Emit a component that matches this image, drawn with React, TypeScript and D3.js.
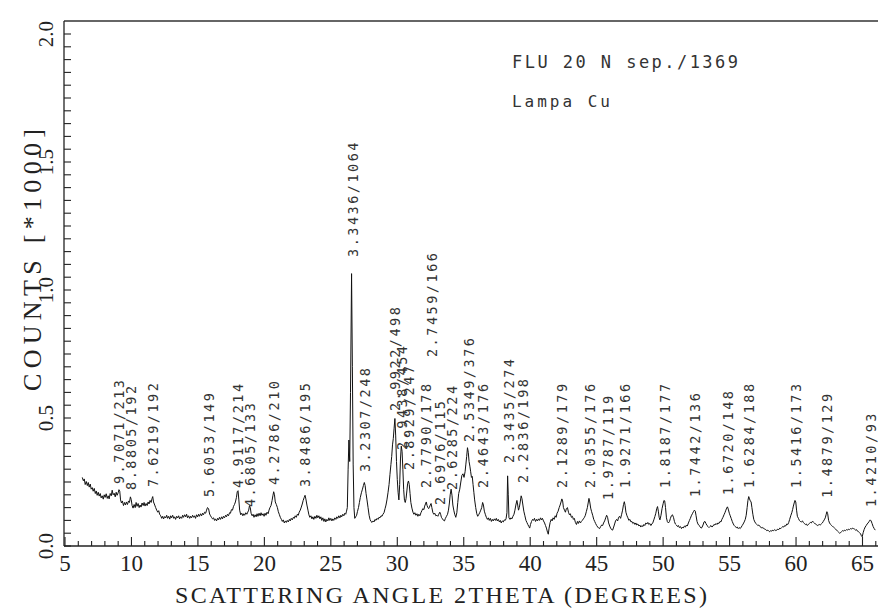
import React from "react";
import * as d3 from "d3";

// 2theta (deg), counts
const pattern: [number, number][] = [
  [6.30,268],[6.38,255],[6.45,262],[6.52,240],[6.60,252],[6.68,236],[6.75,248],[6.82,230],[6.90,242],[6.97,222],
  [7.05,228],[7.12,214],[7.20,225],[7.28,205],[7.35,215],[7.42,198],[7.50,210],[7.57,195],[7.65,205],[7.72,188],
  [7.80,196],[7.88,183],[7.95,200],[8.02,190],[8.10,204],[8.18,186],[8.25,196],[8.32,184],[8.40,205],[8.48,196],
  [8.55,218],[8.62,200],[8.70,206],[8.78,192],[8.85,210],[8.92,198],[9.00,208],[9.06,220],[9.12,214],[9.18,180],
  [9.25,168],[9.32,176],[9.40,158],[9.48,170],[9.55,160],[9.62,172],[9.70,162],[9.78,176],[9.85,170],[9.92,192],
  [9.98,182],[10.05,158],[10.12,148],[10.20,162],[10.28,150],[10.35,170],[10.42,155],[10.50,166],[10.58,150],[10.65,160],
  [10.72,152],[10.80,168],[10.88,158],[10.95,170],[11.02,156],[11.10,166],[11.18,158],[11.25,172],[11.32,164],[11.40,178],
  [11.48,170],[11.55,186],[11.60,193],[11.66,172],[11.75,160],[11.82,150],[11.90,140],[11.98,132],[12.05,138],[12.12,124],
  [12.20,118],[12.28,108],[12.35,116],[12.42,106],[12.50,115],[12.58,110],[12.65,120],[12.72,108],[12.80,116],[12.88,105],
  [12.95,118],[13.02,110],[13.10,120],[13.18,108],[13.25,114],[13.32,104],[13.40,116],[13.48,110],[13.55,118],[13.62,106],
  [13.70,114],[13.78,108],[13.85,120],[13.92,112],[14.00,122],[14.08,114],[14.15,124],[14.22,110],[14.30,118],[14.38,108],
  [14.45,116],[14.52,110],[14.60,120],[14.68,112],[14.75,118],[14.82,108],[14.90,122],[14.98,114],[15.05,124],[15.12,116],
  [15.20,126],[15.28,118],[15.35,128],[15.42,122],[15.50,132],[15.58,128],[15.65,140],[15.72,150],[15.80,146],[15.88,125],
  [15.95,118],[16.02,112],[16.10,106],[16.18,110],[16.25,100],[16.32,106],[16.40,98],[16.48,108],[16.55,102],[16.62,112],
  [16.70,104],[16.78,114],[16.85,106],[16.92,116],[17.00,110],[17.08,120],[17.15,114],[17.22,124],[17.30,118],[17.38,130],
  [17.45,128],[17.52,142],[17.60,140],[17.68,155],[17.75,162],[17.82,172],[17.90,190],[17.96,212],[18.02,216],[18.08,180],
  [18.14,140],[18.22,122],[18.30,128],[18.38,118],[18.45,126],[18.52,120],[18.60,130],[18.68,124],[18.75,132],[18.82,140],
  [18.88,158],[18.94,150],[19.00,128],[19.08,118],[19.15,124],[19.22,112],[19.30,122],[19.38,114],[19.45,126],[19.52,116],
  [19.60,128],[19.68,118],[19.75,130],[19.82,120],[19.90,126],[19.98,116],[20.05,128],[20.12,120],[20.20,132],[20.28,126],
  [20.35,140],[20.42,150],[20.50,158],[20.58,178],[20.64,196],[20.70,212],[20.76,200],[20.82,172],[20.90,162],[20.98,150],
  [21.05,134],[21.12,124],[21.20,112],[21.28,104],[21.35,96],[21.42,102],[21.50,90],[21.58,98],[21.65,92],[21.72,100],
  [21.80,94],[21.88,104],[21.95,98],[22.02,108],[22.10,102],[22.18,112],[22.25,108],[22.32,118],[22.40,112],[22.48,124],
  [22.55,120],[22.62,132],[22.70,140],[22.78,152],[22.85,164],[22.92,178],[23.00,190],[23.06,198],[23.12,184],[23.20,160],
  [23.28,140],[23.35,122],[23.42,112],[23.50,118],[23.58,106],[23.65,114],[23.72,104],[23.80,116],[23.88,108],[23.95,120],
  [24.02,110],[24.10,118],[24.18,106],[24.25,114],[24.32,100],[24.40,110],[24.48,96],[24.55,106],[24.62,94],[24.70,104],
  [24.78,98],[24.85,110],[24.92,100],[25.00,108],[25.08,98],[25.15,106],[25.22,100],[25.30,110],[25.38,104],[25.45,114],
  [25.52,108],[25.60,118],[25.68,110],[25.75,120],[25.82,114],[25.90,124],[25.98,118],[26.05,128],[26.12,124],[26.18,136],
  [26.24,150],[26.30,300],[26.36,414],[26.42,330],[26.48,600],[26.56,1064],[26.62,700],[26.68,320],[26.74,150],[26.80,108],
  [26.87,114],[26.94,120],[27.00,134],[27.08,150],[27.15,170],[27.22,190],[27.30,208],[27.38,222],[27.45,236],[27.52,248],
  [27.58,236],[27.65,205],[27.72,180],[27.80,150],[27.88,120],[27.95,104],[28.02,96],[28.10,92],[28.18,98],[28.25,94],
  [28.32,104],[28.40,100],[28.48,108],[28.55,104],[28.62,112],[28.70,110],[28.78,118],[28.85,116],[28.92,124],[29.00,130],
  [29.08,146],[29.15,160],[29.22,180],[29.30,208],[29.38,240],[29.45,280],[29.52,318],[29.58,350],[29.64,395],[29.70,420],
  [29.76,460],[29.82,498],[29.88,430],[29.94,330],[30.00,260],[30.06,210],[30.12,180],[30.18,240],[30.24,340],[30.30,390],
  [30.36,370],[30.42,300],[30.48,220],[30.54,178],[30.60,170],[30.66,185],[30.72,215],[30.78,245],[30.84,254],[30.90,240],
  [30.96,205],[31.02,170],[31.10,148],[31.18,132],[31.25,124],[31.32,130],[31.40,120],[31.48,126],[31.55,116],[31.62,124],
  [31.70,118],[31.78,130],[31.85,138],[31.92,146],[32.00,142],[32.06,156],[32.12,164],[32.18,172],[32.24,158],[32.30,150],
  [32.36,146],[32.42,152],[32.48,160],[32.54,166],[32.60,150],[32.68,130],[32.75,124],[32.82,128],[32.90,118],[32.98,120],
  [33.05,116],[33.12,124],[33.20,132],[33.26,124],[33.32,112],[33.40,106],[33.48,100],[33.55,98],[33.62,108],[33.70,116],
  [33.78,124],[33.85,140],[33.92,168],[33.98,200],[34.05,222],[34.12,196],[34.18,160],[34.25,140],[34.32,124],[34.40,112],
  [34.48,130],[34.55,170],[34.62,205],[34.70,222],[34.78,250],[34.86,276],[34.94,282],[35.02,268],[35.10,290],[35.16,320],
  [35.22,350],[35.28,384],[35.34,366],[35.40,330],[35.46,312],[35.52,290],[35.58,268],[35.64,272],[35.70,240],[35.76,210],
  [35.82,180],[35.90,150],[35.98,126],[36.05,116],[36.12,122],[36.20,130],[36.28,140],[36.35,150],[36.42,170],[36.48,160],
  [36.55,136],[36.62,124],[36.70,112],[36.78,104],[36.85,110],[36.92,100],[37.00,108],[37.08,96],[37.15,104],[37.22,98],
  [37.30,106],[37.38,100],[37.45,108],[37.52,98],[37.60,104],[37.68,94],[37.75,100],[37.82,90],[37.90,98],[37.98,94],
  [38.05,102],[38.12,100],[38.18,106],[38.25,130],[38.30,274],[38.35,200],[38.40,110],[38.48,104],[38.55,110],[38.62,106],
  [38.70,116],[38.78,124],[38.85,140],[38.92,160],[39.00,178],[39.06,160],[39.12,140],[39.18,150],[39.25,172],[39.32,196],
  [39.38,185],[39.45,160],[39.52,136],[39.60,118],[39.68,100],[39.75,92],[39.82,84],[39.90,76],[39.96,70],[40.02,84],
  [40.10,96],[40.18,104],[40.25,100],[40.32,108],[40.40,96],[40.48,104],[40.55,98],[40.62,106],[40.70,100],[40.78,110],
  [40.85,102],[40.92,108],[41.00,98],[41.08,90],[41.15,80],[41.22,70],[41.30,54],[41.36,46],[41.42,70],[41.50,92],
  [41.58,104],[41.65,98],[41.72,110],[41.80,104],[41.88,118],[41.95,112],[42.02,128],[42.10,136],[42.18,150],[42.25,160],
  [42.32,172],[42.38,184],[42.44,176],[42.50,150],[42.58,140],[42.65,132],[42.72,146],[42.80,150],[42.88,132],[42.95,122],
  [43.02,126],[43.10,112],[43.18,116],[43.25,104],[43.32,108],[43.40,92],[43.48,84],[43.55,96],[43.62,88],[43.70,98],
  [43.78,90],[43.85,96],[43.92,100],[44.00,106],[44.08,112],[44.15,120],[44.22,134],[44.30,150],[44.36,168],[44.42,186],
  [44.48,172],[44.55,148],[44.62,134],[44.70,120],[44.78,104],[44.85,96],[44.92,88],[45.00,80],[45.08,74],[45.15,70],
  [45.22,68],[45.30,76],[45.38,82],[45.45,80],[45.52,90],[45.60,98],[45.68,110],[45.75,120],[45.82,112],[45.90,90],
  [45.98,78],[46.05,70],[46.12,64],[46.20,62],[46.28,74],[46.35,86],[46.42,98],[46.50,104],[46.58,98],[46.65,112],
  [46.72,116],[46.80,108],[46.88,124],[46.95,140],[47.02,162],[47.08,173],[47.14,158],[47.20,132],[47.28,118],[47.35,110],
  [47.42,100],[47.50,104],[47.58,94],[47.65,96],[47.72,88],[47.80,92],[47.88,84],[47.95,90],[48.02,82],[48.10,86],
  [48.18,78],[48.25,82],[48.32,74],[48.40,80],[48.48,76],[48.55,84],[48.62,80],[48.70,90],[48.78,86],[48.85,92],
  [48.92,84],[49.00,88],[49.08,80],[49.15,86],[49.22,90],[49.30,102],[49.38,115],[49.45,128],[49.52,146],[49.58,154],
  [49.64,136],[49.70,112],[49.76,102],[49.84,120],[49.92,146],[50.00,165],[50.06,178],[50.12,176],[50.18,150],[50.25,110],
  [50.32,95],[50.40,90],[50.48,96],[50.55,108],[50.62,118],[50.70,122],[50.78,112],[50.85,96],[50.92,86],[51.00,82],
  [51.08,76],[51.15,80],[51.22,72],[51.30,76],[51.38,68],[51.45,74],[51.52,70],[51.60,78],[51.68,74],[51.75,82],
  [51.82,78],[51.90,90],[51.98,100],[52.05,108],[52.12,118],[52.20,126],[52.28,134],[52.35,140],[52.42,136],[52.48,118],
  [52.55,96],[52.62,86],[52.70,80],[52.78,76],[52.85,70],[52.92,72],[53.00,82],[53.08,94],[53.15,96],[53.22,88],
  [53.30,80],[53.38,76],[53.45,72],[53.52,76],[53.60,80],[53.68,74],[53.75,78],[53.82,84],[53.90,82],[53.98,88],
  [54.05,84],[54.12,90],[54.20,88],[54.28,96],[54.35,94],[54.42,104],[54.50,112],[54.58,122],[54.65,130],[54.72,140],
  [54.78,148],[54.84,153],[54.90,144],[54.98,128],[55.05,118],[55.12,108],[55.20,96],[55.28,86],[55.35,80],[55.42,76],
  [55.50,72],[55.58,74],[55.65,68],[55.72,72],[55.80,68],[55.88,74],[55.95,80],[56.02,86],[56.10,94],[56.18,104],
  [56.25,120],[56.32,150],[56.38,178],[56.44,193],[56.50,184],[56.56,176],[56.62,172],[56.68,150],[56.75,124],[56.82,104],
  [56.90,94],[56.98,88],[57.05,84],[57.12,80],[57.20,82],[57.28,76],[57.35,74],[57.42,70],[57.50,72],[57.58,68],
  [57.65,66],[57.72,64],[57.80,60],[57.88,62],[57.95,58],[58.02,56],[58.10,60],[58.18,58],[58.25,62],[58.32,60],
  [58.40,64],[58.48,60],[58.55,62],[58.62,66],[58.70,64],[58.78,70],[58.85,68],[58.92,72],[59.00,76],[59.08,74],
  [59.15,80],[59.22,78],[59.30,86],[59.38,84],[59.45,92],[59.52,104],[59.60,118],[59.68,130],[59.74,142],[59.80,156],
  [59.86,168],[59.92,178],[59.98,172],[60.04,140],[60.10,116],[60.18,108],[60.25,100],[60.32,96],[60.40,94],[60.48,98],
  [60.55,92],[60.62,88],[60.70,84],[60.78,86],[60.85,80],[60.92,84],[61.00,88],[61.08,92],[61.15,90],[61.22,96],
  [61.30,94],[61.38,90],[61.45,86],[61.52,84],[61.60,80],[61.68,82],[61.75,84],[61.82,82],[61.90,86],[61.98,90],
  [62.05,96],[62.12,102],[62.20,110],[62.26,122],[62.32,134],[62.38,126],[62.45,100],[62.52,90],[62.60,84],[62.68,80],
  [62.75,76],[62.82,74],[62.90,70],[62.98,66],[63.05,62],[63.12,58],[63.20,54],[63.28,50],[63.35,52],[63.42,56],
  [63.50,60],[63.58,58],[63.65,62],[63.72,60],[63.80,64],[63.88,62],[63.95,66],[64.02,64],[64.10,68],[64.18,66],
  [64.25,70],[64.32,68],[64.40,66],[64.48,62],[64.55,64],[64.62,58],[64.70,56],[64.78,52],[64.85,48],[64.92,40],
  [64.98,36],[65.05,52],[65.12,64],[65.20,74],[65.28,80],[65.35,86],[65.42,90],[65.50,96],[65.58,102],[65.65,98],
  [65.72,88],[65.80,76],[65.88,68],[65.96,62],
];

const labelTexts = [
  "9.7071/213", "8.8805/192", "7.6219/192", "5.6053/149", "4.9117/214", "4.6805/133",
  "4.2786/210", "3.8486/195", "3.3436/1064", "3.2307/248", "2.9922/498", "2.9438/454",
  "2.8929/247", "2.7459/166", "2.7790/178", "2.6976/115", "2.6285/224", "2.5349/376",
  "2.4643/176", "2.3435/274", "2.2836/198", "2.1289/179", "2.0355/176", "1.9787/119",
  "1.9271/166", "1.8187/177", "1.7442/136", "1.6720/148", "1.6284/188", "1.5416/173",
  "1.4879/129", "1.4210/93",
];
// peak positions (2theta) of the labels
const labelTheta = [
  9.10, 9.95, 11.60, 15.80, 18.05, 18.95, 20.74, 23.09, 26.64, 27.59, 29.84, 30.34,
  30.88, 32.58, 32.19, 33.18, 34.08, 35.38, 36.43, 38.38, 39.43, 42.42, 44.47, 45.82,
  47.12, 50.12, 52.41, 54.87, 56.46, 59.96, 62.36, 65.65,
];
// level (counts) at which each label starts
const labelBase = [
  242, 219, 230, 191, 227, 152, 238, 230, 1129, 289, 527, 375,
  297, 738, 227, 160, 219, 406, 227, 324, 246, 227, 227, 180,
  227, 227, 191, 199, 227, 227, 188, 152,
];

const xTickLabels = [5, 10, 15, 20, 25, 30, 35, 40, 45, 50, 55, 60, 65];
const yTickLabels = ["0.0", "0.5", "1.0", "1.5", "2.0"];

const sampleText = "FLU 20 N sep./1369";
const tubeText = "Lampa Cu";
const xTitle = "SCATTERING ANGLE 2THETA (DEGREES)";
const yTitle = "COUNTS [*1000]";

const W = 878;
const H = 608;

export default function App() {
  const x = d3.scaleLinear().domain([5, 65]).range([65, 862.5]);
  const y = d3.scaleLinear().domain([0, 2000]).range([546, 34]);

  const line = d3
    .line<[number, number]>()
    .x((d) => x(d[0]))
    .y((d) => y(d[1]));

  const xMinor = d3.range(5, 67, 1);
  const yMinor = d3.range(0, 2001, 50);

  const serif = { fontFamily: "Liberation Serif, Times New Roman, DejaVu Serif, serif" };
  const mono = { fontFamily: "DejaVu Sans Mono, monospace" };

  return (
    <svg
      width={W}
      height={H}
      viewBox={`0 0 ${W} ${H}`}
      style={{ position: "absolute", left: 0, top: 0, background: "#fff" }}
    >
      <rect x={0} y={0} width={W} height={H} fill="#fff" />
      {/* frame */}
      <line x1={64} y1={21} x2={W} y2={21} stroke="#333" strokeWidth={1.3} />
      <line x1={64} y1={21} x2={64} y2={546} stroke="#222" strokeWidth={1.3} />
      <line x1={64} y1={546} x2={W} y2={546} stroke="#222" strokeWidth={1.3} />

      {/* x ticks */}
      {xMinor.map((v) => (
        <line
          key={"xt" + v}
          x1={x(v)}
          x2={x(v)}
          y1={546}
          y2={546 - (v % 5 === 0 ? 9 : 5)}
          stroke="#222"
          strokeWidth={1.1}
        />
      ))}
      {xTickLabels.map((v) => (
        <text
          key={"xl" + v}
          x={x(v)}
          y={571}
          textAnchor="middle"
          style={serif}
          fontSize={23}
          fill="#222"
        >
          {v}
        </text>
      ))}

      {/* y ticks */}
      {yMinor.map((v) => (
        <line
          key={"yt" + v}
          x1={64}
          x2={71}
          y1={y(v)}
          y2={y(v)}
          stroke="#222"
          strokeWidth={1.1}
        />
      ))}
      {yTickLabels.map((t) => (
        <text
          key={"yl" + t}
          transform={`translate(53,${y(parseFloat(t) * 1000)}) rotate(-90)`}
          textAnchor="middle"
          style={serif}
          fontSize={21}
          fill="#222"
        >
          {t}
        </text>
      ))}

      {/* axis titles */}
      <text
        x={441}
        y={603}
        textAnchor="middle"
        style={serif}
        fontSize={24}
        fill="#222"
        textLength={532}
        lengthAdjust="spacing"
      >
        {xTitle}
      </text>
      <text
        transform={`translate(41,260) rotate(-90)`}
        textAnchor="middle"
        style={serif}
        fontSize={26}
        fill="#222"
        textLength={262}
        lengthAdjust="spacing"
      >
        {yTitle}
      </text>

      {/* header notes */}
      <text
        x={512}
        y={68}
        style={mono}
        fontSize={17}
        fill="#333"
        textLength={226}
        lengthAdjust="spacing"
      >
        {sampleText}
      </text>
      <text
        x={512}
        y={107}
        style={mono}
        fontSize={16}
        fill="#333"
        textLength={98}
        lengthAdjust="spacing"
      >
        {tubeText}
      </text>

      {/* pattern */}
      <path d={line(pattern) || ""} fill="none" stroke="#111" strokeWidth={1} />

      {/* peak labels */}
      {labelTexts.map((t, i) => (
        <text
          key={"pl" + i}
          transform={`translate(${x(labelTheta[i]) + 5},${y(labelBase[i])}) rotate(-90)`}
          style={mono}
          fontSize={13.5}
          fill="#333"
          textLength={t.length * 10.4}
          lengthAdjust="spacing"
        >
          {t}
        </text>
      ))}
    </svg>
  );
}
